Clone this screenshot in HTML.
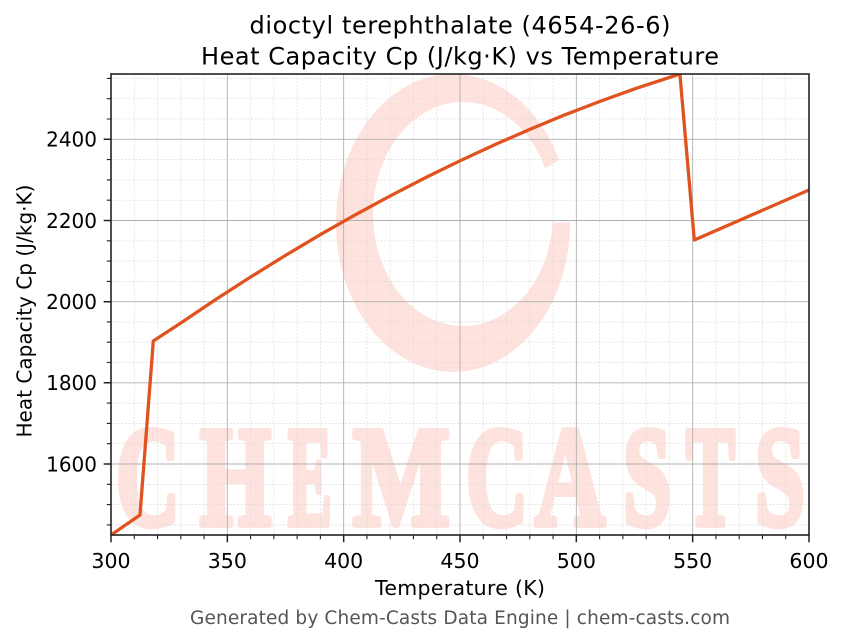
<!DOCTYPE html>
<html>
<head>
<meta charset="utf-8">
<style>
html,body{margin:0;padding:0;background:#fff;}
svg{display:block;}
text{font-family:"DejaVu Sans","Liberation Sans",sans-serif;}
</style>
</head>
<body>
<svg width="843" height="644" viewBox="0 0 843 644" xmlns="http://www.w3.org/2000/svg">
<defs>
<clipPath id="plot"><rect x="111" y="74" width="698" height="461"/></clipPath>
<mask id="ringmask">
<rect x="0" y="0" width="843" height="644" fill="#fff"/>
<polygon points="453,223 640,112 640,222" fill="#000"/>
</mask>
</defs>
<rect width="843" height="644" fill="#fff"/>

<!-- watermark -->
<g clip-path="url(#plot)">
<path mask="url(#ringmask)" fill="#fde2dd" fill-rule="evenodd"
d="M336,223 a117,149 0 1,0 234,0 a117,149 0 1,0 -234,0 Z M373,214 a90,112 0 1,0 180,0 a90,112 0 1,0 -180,0 Z"/>
<g fill="#fde2dd" stroke="#fde2dd" stroke-width="7" stroke-linejoin="round" font-weight="bold" font-size="142">
<text x="116" y="524.5" textLength="64" lengthAdjust="spacingAndGlyphs" style="font-family:'Liberation Serif','DejaVu Serif',serif">C</text>
<text x="200" y="524.5" textLength="71" lengthAdjust="spacingAndGlyphs" style="font-family:'Liberation Serif','DejaVu Serif',serif">H</text>
<text x="288" y="524.5" textLength="44" lengthAdjust="spacingAndGlyphs" style="font-family:'Liberation Serif','DejaVu Serif',serif">E</text>
<text x="353" y="524.5" textLength="97" lengthAdjust="spacingAndGlyphs" style="font-family:'Liberation Serif','DejaVu Serif',serif">M</text>
<text x="466" y="524.5" textLength="62" lengthAdjust="spacingAndGlyphs" style="font-family:'Liberation Serif','DejaVu Serif',serif">C</text>
<text x="535" y="524.5" textLength="70" lengthAdjust="spacingAndGlyphs" style="font-family:'Liberation Serif','DejaVu Serif',serif">A</text>
<text x="623" y="524.5" textLength="48" lengthAdjust="spacingAndGlyphs" style="font-family:'Liberation Serif','DejaVu Serif',serif">S</text>
<text x="686" y="524.5" textLength="49" lengthAdjust="spacingAndGlyphs" style="font-family:'Liberation Serif','DejaVu Serif',serif">T</text>
<text x="755" y="524.5" textLength="50" lengthAdjust="spacingAndGlyphs" style="font-family:'Liberation Serif','DejaVu Serif',serif">S</text>
</g>
</g>

<!-- minor grid -->
<g stroke="#dcdcdc" stroke-width="0.7" stroke-dasharray="2,1.5" fill="none">
<path d="M134.27,74V535M157.53,74V535M180.8,74V535M204.07,74V535M250.6,74V535M273.87,74V535M297.13,74V535M320.4,74V535M366.93,74V535M390.2,74V535M413.47,74V535M436.73,74V535M483.27,74V535M506.53,74V535M529.8,74V535M553.07,74V535M599.6,74V535M622.87,74V535M646.13,74V535M669.4,74V535M715.93,74V535M739.2,74V535M762.47,74V535M785.73,74V535"/>
<path d="M111,524.9H809M111,504.6H809M111,484.3H809M111,443.7H809M111,423.4H809M111,403.1H809M111,362.5H809M111,342.2H809M111,321.9H809M111,281.4H809M111,261.1H809M111,240.8H809M111,200.2H809M111,179.9H809M111,159.6H809M111,119H809M111,98.7H809M111,78.4H809"/>
</g>
<!-- major grid -->
<g stroke="#b0b0b0" stroke-width="0.9" fill="none">
<path d="M227.33,74V535M343.67,74V535M460,74V535M576.33,74V535M692.67,74V535"/>
<path d="M111,464H809M111,382.8H809M111,301.7H809M111,220.5H809M111,139.3H809"/>
</g>

<!-- data -->
<g clip-path="url(#plot)">
<polyline fill="none" stroke="#e0531f" stroke-width="3.3" stroke-linejoin="round" stroke-linecap="square"
points="111,535 140,515 153.3,341 180.8,323 215.7,299.5 250.6,277 285.5,255.4 320.4,234.6 355.3,214.8 390.2,195.9 425.1,177.9 460,160.8 494.9,144.6 529.8,129.4 564.7,114.9 599.6,101.5 634.5,88.9 679.9,74 694.3,240 809,190"/>
</g>

<!-- spines -->
<rect x="111" y="74" width="698" height="461" fill="none" stroke="#222" stroke-width="1.6"/>

<!-- ticks -->
<g stroke="#222" stroke-width="1.5">
<path d="M111,535v7.3M227.33,535v7.3M343.67,535v7.3M460,535v7.3M576.33,535v7.3M692.67,535v7.3M809,535v7.3"/>
<path d="M111,464h-7.3M111,382.8h-7.3M111,301.7h-7.3M111,220.5h-7.3M111,139.3h-7.3"/>
</g>
<g stroke="#222" stroke-width="1.1">
<path d="M134.27,535v4.2M157.53,535v4.2M180.8,535v4.2M204.07,535v4.2M250.6,535v4.2M273.87,535v4.2M297.13,535v4.2M320.4,535v4.2M366.93,535v4.2M390.2,535v4.2M413.47,535v4.2M436.73,535v4.2M483.27,535v4.2M506.53,535v4.2M529.8,535v4.2M553.07,535v4.2M599.6,535v4.2M622.87,535v4.2M646.13,535v4.2M669.4,535v4.2M715.93,535v4.2M739.2,535v4.2M762.47,535v4.2M785.73,535v4.2"/>
<path d="M111,524.9h-4.2M111,504.6h-4.2M111,484.3h-4.2M111,443.7h-4.2M111,423.4h-4.2M111,403.1h-4.2M111,362.5h-4.2M111,342.2h-4.2M111,321.9h-4.2M111,281.4h-4.2M111,261.1h-4.2M111,240.8h-4.2M111,200.2h-4.2M111,179.9h-4.2M111,159.6h-4.2M111,119h-4.2M111,98.7h-4.2M111,78.4h-4.2"/>
</g>

<!-- tick labels -->
<g font-size="20.5" fill="#000" text-anchor="middle">
<text x="111" y="568">300</text>
<text x="227.33" y="568">350</text>
<text x="343.67" y="568">400</text>
<text x="460" y="568">450</text>
<text x="576.33" y="568">500</text>
<text x="692.67" y="568">550</text>
<text x="809" y="568">600</text>
</g>
<g font-size="20" fill="#000" text-anchor="end">
<text x="97" y="146.6">2400</text>
<text x="97" y="227.8">2200</text>
<text x="97" y="309">2000</text>
<text x="97" y="390.1">1800</text>
<text x="97" y="471.3">1600</text>
</g>

<!-- axis labels -->
<text x="460" y="595" font-size="20.5" text-anchor="middle" textLength="170" fill="#000">Temperature (K)</text>
<text transform="translate(31.5,311) rotate(-90)" x="0" y="0" font-size="20" text-anchor="middle" textLength="253" fill="#000">Heat Capacity Cp (J/kg·K)</text>

<!-- title -->
<text x="460" y="33.3" font-size="24" text-anchor="middle" textLength="421" fill="#000">dioctyl terephthalate (4654-26-6)</text>
<text x="460" y="64.3" font-size="24" text-anchor="middle" textLength="518" fill="#000">Heat Capacity Cp (J/kg·K) vs Temperature</text>

<!-- footer -->
<text x="460" y="624" font-size="18.5" text-anchor="middle" textLength="540" fill="#555">Generated by Chem-Casts Data Engine | chem-casts.com</text>
</svg>
</body>
</html>
